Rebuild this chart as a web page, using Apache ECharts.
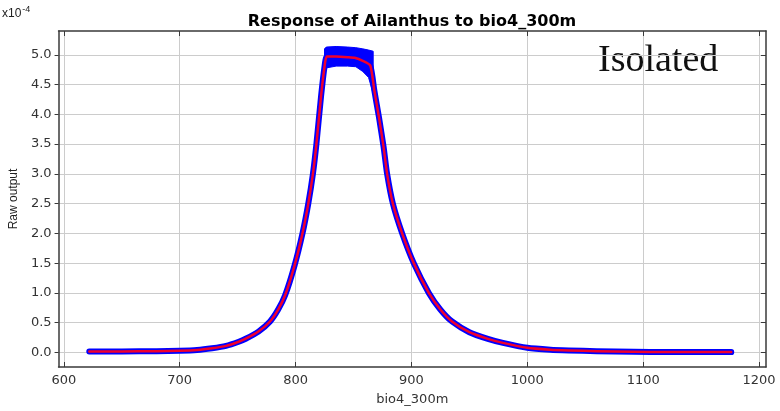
<!DOCTYPE html>
<html>
<head>
<meta charset="utf-8">
<script src="https://cdn.jsdelivr.net/npm/echarts@6/dist/echarts.min.js"></script>
<style>html,body{margin:0;padding:0;background:#fff}#c{width:780px;height:411px}</style>
</head>
<body>
<div id="c"></div>
<script>
// ---- data (values in units of 1e-4) ----
var xVals = [622,650,680,700,715,728,740,751,757,768,778,785,791,799,806,811,815,818,822,825,827,835,845,851,858,864.5,868,872,876,879,884,892,902,915,925,935,950,966,979,1000,1020,1036,1060,1092,1120,1150,1176];
var meanVals = [0.015,0.016,0.02,0.027,0.04,0.07,0.11,0.18,0.23,0.35,0.52,0.72,0.96,1.45,2.0,2.5,3.0,3.5,4.3,4.8,4.97,4.97,4.96,4.95,4.9,4.82,4.4,3.95,3.45,3.0,2.5,2.0,1.5,1.0,0.72,0.52,0.34,0.227,0.16,0.077,0.045,0.033,0.02,0.01,0.007,0.006,0.005];
var bandX = [825,826.5,835,845,852,858,863,867];
var bandLow = [4.7,4.78,4.81,4.81,4.8,4.72,4.62,4.35];
var bandHigh = [5.1,5.13,5.14,5.13,5.12,5.1,5.08,5.06];
var xTicks = [600,700,800,900,1000,1100,1200];
var yTicks = [0,0.5,1.0,1.5,2.0,2.5,3.0,3.5,4.0,4.5,5.0];
var titleText = 'Response of Ailanthus to bio4_300m';
var xName = 'bio4_300m';
var yName = 'Raw output';
var tagText = 'Isolated';

var meanData = xVals.map(function(x,i){return [x, meanVals[i]];});
var bandData = bandX.map(function(x,i){return [x, bandLow[i], bandHigh[i]];});

var axisCol = '#3a3a3a';
var gridCol = '#cccccc';
var lblFont = {fontFamily:'DejaVu Sans', fontSize:13, color:'#333'};

var chart = echarts.init(document.getElementById('c'), null, {renderer:'canvas'});
chart.setOption({
  animation:false,
  backgroundColor:'#fff',
  title:{text:titleText, left:407, top:9, textAlign:'center',
    textStyle:{fontFamily:'DejaVu Sans', fontWeight:'bold', fontSize:16, color:'#000'}},
  grid:{left:51, top:31, right:14, bottom:41},
  xAxis:[{
    type:'value', min:595.5, max:1206, position:'bottom',
    name:xName, nameLocation:'middle', nameGap:26,
    nameTextStyle:{fontFamily:'DejaVu Sans', fontSize:13, color:'#333'},
    axisLine:{show:true, onZero:false, lineStyle:{color:axisCol, width:1.5}},
    axisTick:{show:true, inside:true, length:5, customValues:xTicks, lineStyle:{color:axisCol}},
    axisLabel:Object.assign({customValues:xTicks, margin:7, formatter:function(v){return String(v);}}, lblFont),
    splitLine:{show:true, lineStyle:{color:gridCol, width:1}}
  },{
    type:'value', min:595.5, max:1206, position:'top',
    axisLine:{show:true, onZero:false, lineStyle:{color:axisCol, width:1.5}},
    axisTick:{show:true, inside:true, length:5, customValues:xTicks, lineStyle:{color:axisCol}},
    axisLabel:{show:false, customValues:xTicks},
    splitLine:{show:false}
  }],
  yAxis:[{
    type:'value', min:-0.245, max:5.4, position:'left',
    name:yName, nameLocation:'middle', nameGap:38, nameRotate:90,
    nameTextStyle:{fontFamily:'Liberation Sans', fontSize:12, color:'#222'},
    axisLine:{show:true, onZero:false, lineStyle:{color:axisCol, width:1.5}},
    axisTick:{show:true, inside:false, length:4, customValues:yTicks, lineStyle:{color:axisCol}},
    axisLabel:Object.assign({customValues:yTicks, margin:7, formatter:function(v){return v.toFixed(1);}}, lblFont),
    splitLine:{show:true, lineStyle:{color:gridCol, width:1}}
  },{
    type:'value', min:-0.245, max:5.4, position:'right',
    axisLine:{show:true, onZero:false, lineStyle:{color:axisCol, width:1.5}},
    axisTick:{show:true, inside:true, length:5, customValues:yTicks, lineStyle:{color:axisCol}},
    axisLabel:{show:false, customValues:yTicks},
    splitLine:{show:false}
  }],
  series:[
    {type:'custom', data:bandData, silent:true,
      encode:{x:0, y:[1,2]},
      renderItem:function(params, api){
        if (params.dataIndex !== 0) return null;
        var up = [], lo = [];
        for (var i=0;i<bandX.length;i++){
          up.push(api.coord([bandX[i], bandHigh[i]]));
          lo.unshift(api.coord([bandX[i], bandLow[i]]));
        }
        return {type:'polygon', shape:{points:up.concat(lo)}, style:{fill:'#0000ff', stroke:'#0000ff', lineWidth:1}};
      }},
    {type:'line', data:meanData, symbol:'none', smooth:0.2,
      lineStyle:{color:'#0000ff', width:6, join:'round', cap:'round'}, silent:true},
    {type:'line', data:meanData, symbol:'none', smooth:0.2,
      lineStyle:{color:'#f0002c', width:2.5, join:'round', cap:'round'}, silent:true}
  ],
  graphic:[
    {type:'text', left:2, top:5, style:{
      text:'{a|x10}{b|-4}',
      rich:{a:{fontFamily:'Liberation Sans', fontSize:12, fill:'#222', color:'#222'},
            b:{fontFamily:'Liberation Sans', fontSize:9, fill:'#222', color:'#222', padding:[0,0,9,1]}}
    }},
    {type:'text', left:598, top:42, style:{
      text:tagText, fontFamily:'Liberation Serif', fontSize:38, fill:'#111'
    }}
  ]
});
</script>
</body>
</html>
